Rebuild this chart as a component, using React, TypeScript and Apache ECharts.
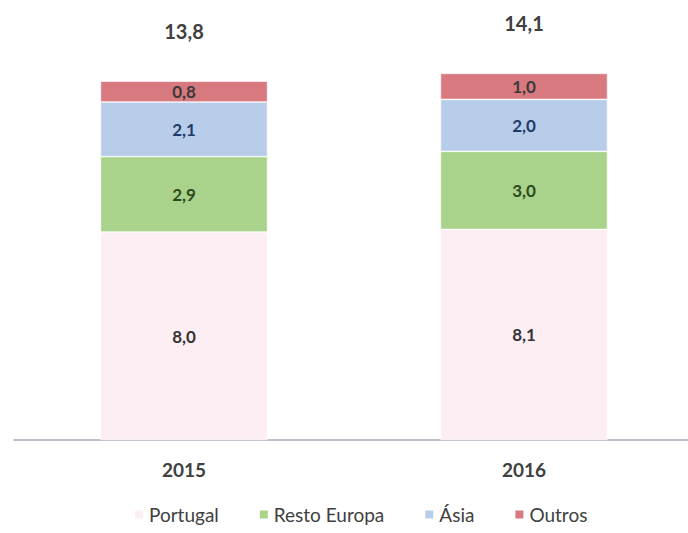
import React, { useEffect, useRef } from "react";
import * as echarts from "echarts";

const categories = ["2015", "2016"];
const portugal = [8.0, 8.1];
const restoEuropa = [2.9, 3.0];
const asia = [2.1, 2.0];
const outros = [0.8, 1.0];
const totals = [13.8, 14.1];

const fmt = (v: number) => v.toFixed(1).replace(".", ",");
const FONT = "Lato, 'Open Sans', sans-serif";

export default function App() {
  const ref = useRef<HTMLDivElement>(null);
  useEffect(() => {
    if (!ref.current) return;
    const chart = echarts.init(ref.current, undefined, { renderer: "svg" });
    const seg = (name: string, data: number[], color: string, labelColor: string) => ({
      name,
      type: "bar",
      stack: "s",
      data,
      barWidth: 167,
      itemStyle: { color, borderColor: "#ffffff", borderWidth: 0.6 },
      label: {
        show: true,
        position: "inside",
        formatter: (p: any) => fmt(p.value),
        color: labelColor,
        fontSize: 17,
        fontWeight: "bold",
        fontFamily: FONT,
      },
    });
    chart.setOption({
      animation: false,
      backgroundColor: "#ffffff",
      textStyle: { fontFamily: FONT },
      grid: { left: 14, right: 0, top: 24, bottom: 93 },
      xAxis: {
        type: "category",
        data: categories,
        axisTick: { show: false },
        axisLine: { show: true, lineStyle: { color: "#a8a8b4", width: 1.5 } },
        axisLabel: { color: "#404040", fontSize: 19, fontWeight: "bold", margin: 20, fontFamily: FONT },
      },
      yAxis: { type: "value", min: 0, max: 16, show: false, splitLine: { show: false } },
      legend: {
        data: ["Portugal", "Resto Europa", "Ásia", "Outros"],
        top: 505,
        left: 133,
        padding: 0,
        itemWidth: 10,
        itemHeight: 10,
        itemGap: 39,
        icon: "rect",
        textStyle: { color: "#404040", fontSize: 19, fontFamily: FONT },
      },
      series: [
        seg("Portugal", portugal, "#fdeef3", "#333333"),
        seg("Resto Europa", restoEuropa, "#a9d38a", "#2e4a1e"),
        seg("Ásia", asia, "#b8cde9", "#1f3b6a"),
        seg("Outros", outros, "#d8787f", "#3a3a3a"),
        {
          name: "Total",
          type: "bar",
          data: totals,
          barWidth: 167,
          barGap: "-100%",
          z: 1,
          itemStyle: { color: "rgba(0,0,0,0)" },
          silent: true,
          label: {
            show: true,
            position: "top",
            distance: 40,
            formatter: (p: any) => fmt(p.value),
            color: "#404040",
            fontSize: 20,
            fontWeight: "bold",
            fontFamily: FONT,
          },
        },
      ],
    });
    return () => chart.dispose();
  }, []);
  return (
    <div style={{ position: "fixed", left: 0, top: 0, width: 688, height: 533, overflow: "hidden", background: "#fff" }}>
      <div ref={ref} style={{ width: 694, height: 533 }} />
    </div>
  );
}
